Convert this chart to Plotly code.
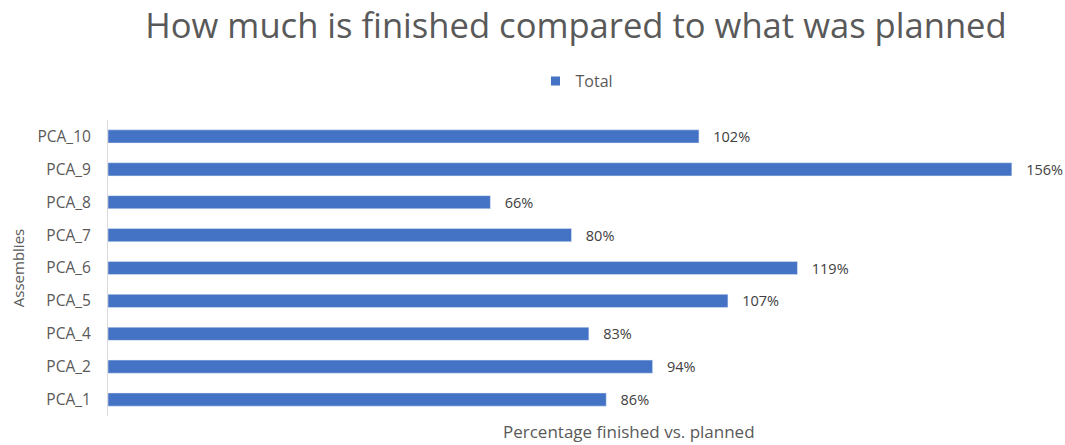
import plotly.graph_objects as go

assemblies = ["PCA_1", "PCA_2", "PCA_4", "PCA_5", "PCA_6", "PCA_7", "PCA_8", "PCA_9", "PCA_10"]
pct_finished = [86, 94, 83, 107, 119, 80, 66, 156, 102]
series_name = "Total"

W, H = 1065, 445
FONT = "Open Sans"
GREY = "#595959"
BLUE = "#4472C4"

fig = go.Figure()
fig.add_trace(go.Bar(
    y=assemblies,
    x=pct_finished,
    orientation="h",
    name=series_name,
    marker=dict(color=BLUE),
    texttemplate="&nbsp;&nbsp;&nbsp;%{x:.0f}%",
    textposition="outside",
    constraintext="none",
    textfont=dict(family=FONT, size=14.5, color="#404040"),
    cliponaxis=False,
    showlegend=False,
))
# legend entry with a small square swatch
fig.add_trace(go.Scatter(
    x=[None], y=[None], mode="markers", name=series_name,
    marker=dict(symbol="square", size=9, color=BLUE),
    showlegend=True,
))

fig.update_layout(
    width=W, height=H,
    margin=dict(l=108, r=30, t=120, b=29, autoexpand=False),
    paper_bgcolor="white",
    plot_bgcolor="white",
    bargap=0.6,
    font=dict(family=FONT, color=GREY),
    title=dict(
        text="How much is finished compared to what was planned",
        x=576 / W, xanchor="center", xref="container",
        y=1 - 26 / H, yanchor="middle", yref="container",
        font=dict(family=FONT, size=34.6, color=GREY),
    ),
    legend=dict(
        orientation="h",
        x=577 / W, xanchor="center", xref="container",
        y=1 - 81 / H, yanchor="middle", yref="container",
        font=dict(family=FONT, size=16, color=GREY),
        itemwidth=30,
    ),
    xaxis=dict(
        range=[0, 160],
        showgrid=False, zeroline=False, showline=False,
        showticklabels=False, ticks="",
    ),
    yaxis=dict(
        showgrid=False, zeroline=False,
        showline=True, linecolor="#d9d9d9", linewidth=1,
        ticks="", ticklabelstandoff=13,
        tickfont=dict(family=FONT, size=15.5, color=GREY),
        title=dict(text="Assemblies", standoff=9,
                   font=dict(family=FONT, size=15, color=GREY)),
    ),
    annotations=[dict(
        text="Percentage finished vs. planned",
        xref="paper", yref="paper",
        x=(629 - 108) / 927, y=0,
        xanchor="center", yanchor="top", yshift=-2,
        showarrow=False,
        font=dict(family=FONT, size=17, color=GREY),
    )],
)

fig.write_html(
    "out.html",
    config={"displayModeBar": False},
    post_script="document.body.style.margin='0';document.body.style.overflow='hidden';",
)
